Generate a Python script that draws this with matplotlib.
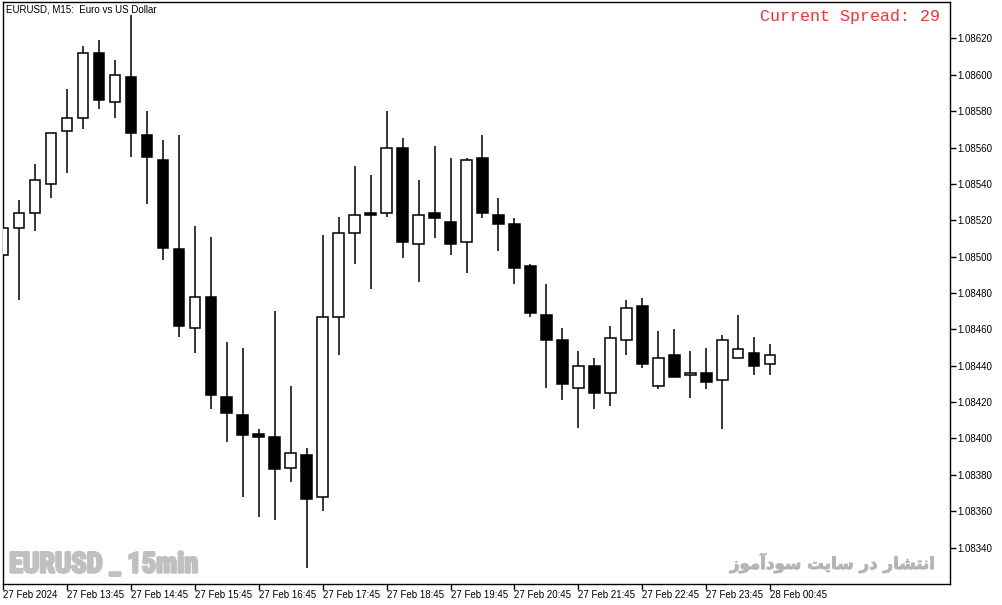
import matplotlib
matplotlib.use("Agg")
import matplotlib.pyplot as plt
from matplotlib import font_manager as fm
import matplotlib.patheffects as pe
import numpy as np

# ---- data (EURUSD M15, 27 Feb 2024 12:45 .. 28 Feb 00:45) ----
opens = [1.08501, 1.08516, 1.08524, 1.08540, 1.08569, 1.08576, 1.08612, 1.08585,
         1.08599, 1.08567, 1.08553, 1.08504, 1.08461, 1.08478, 1.08423, 1.08413,
         1.08402, 1.08401, 1.08384, 1.08391, 1.08368, 1.08467, 1.08513, 1.08524,
         1.08524, 1.08560, 1.08507, 1.08524, 1.08519, 1.08508, 1.08554, 1.08523,
         1.08518, 1.08495, 1.08468, 1.08454, 1.08428, 1.08440, 1.08425, 1.08454,
         1.08473, 1.08429, 1.08446, 1.08435, 1.08436, 1.08432, 1.08444, 1.08447,
         1.08441]
highs = [1.08517, 1.08531, 1.08551, 1.08568, 1.08592, 1.08616, 1.08619, 1.08608,
         1.08633, 1.08580, 1.08564, 1.08567, 1.08517, 1.08511, 1.08453, 1.08450,
         1.08405, 1.08470, 1.08429, 1.08395, 1.08512, 1.08522, 1.08550, 1.08545,
         1.08580, 1.08565, 1.08542, 1.08561, 1.08554, 1.08554, 1.08567, 1.08532,
         1.08521, 1.08496, 1.08485, 1.08461, 1.08448, 1.08444, 1.08462, 1.08476,
         1.08477, 1.08459, 1.08460, 1.08448, 1.08450, 1.08457, 1.08468, 1.08456,
         1.08452]
lows = [1.08500, 1.08476, 1.08514, 1.08532, 1.08546, 1.08570, 1.08581, 1.08576,
        1.08555, 1.08529, 1.08498, 1.08456, 1.08447, 1.08416, 1.08398, 1.08368,
        1.08357, 1.08355, 1.08376, 1.08329, 1.08360, 1.08446, 1.08496, 1.08482,
        1.08522, 1.08499, 1.08486, 1.08510, 1.08501, 1.08491, 1.08521, 1.08503,
        1.08485, 1.08467, 1.08428, 1.08421, 1.08406, 1.08416, 1.08418, 1.08446,
        1.08439, 1.08427, 1.08434, 1.08422, 1.08427, 1.08405, 1.08444, 1.08435,
        1.08435]
closes = [1.08516, 1.08524, 1.08542, 1.08568, 1.08576, 1.08612, 1.08586, 1.08600,
          1.08568, 1.08555, 1.08505, 1.08462, 1.08478, 1.08424, 1.08414, 1.08402,
          1.08401, 1.08383, 1.08392, 1.08367, 1.08467, 1.08513, 1.08523, 1.08523,
          1.08560, 1.08508, 1.08523, 1.08521, 1.08507, 1.08553, 1.08524, 1.08518,
          1.08494, 1.08469, 1.08454, 1.08430, 1.08440, 1.08425, 1.08455, 1.08472,
          1.08441, 1.08444, 1.08434, 1.08436, 1.08431, 1.08454, 1.08449, 1.08440,
          1.08446]

x_tick_pos = list(range(0, 49, 4))
x_tick_labels = ["27 Feb 2024", "27 Feb 13:45", "27 Feb 14:45", "27 Feb 15:45",
                 "27 Feb 16:45", "27 Feb 17:45", "27 Feb 18:45", "27 Feb 19:45",
                 "27 Feb 20:45", "27 Feb 21:45", "27 Feb 22:45", "27 Feb 23:45",
                 "28 Feb 00:45"]
y_ticks = [1.08340, 1.08360, 1.08380, 1.08400, 1.08420, 1.08440, 1.08460,
           1.08480, 1.08500, 1.08520, 1.08540, 1.08560, 1.08580, 1.08600, 1.08620]

title_text = "EURUSD, M15:  Euro vs US Dollar"
spread_text = "Current Spread: 29"
watermark_left = "EURUSD _ 15min"


def shape_persian():
    # "انتشار در سایت سودآموز" written with Arabic presentation forms, visual order
    w_sodamooz = "\uFEAF\uFEEE\uFEE3\uFE81\uFEA9\uFEEE\uFEB3"
    w_sayt = "\uFE96\uFBFE\uFE8E\uFEB3"
    w_dar = "\uFEAD\uFEA9"
    w_enteshar = "\uFEAD\uFE8E\uFEB8\uFE98\uFEE7\uFE8D"
    return " ".join([w_sodamooz, w_sayt, w_dar, w_enteshar])


names = {f.name for f in fm.fontManager.ttflist}
if "Roboto Condensed" in names:
    wm_family, wm_size = "Roboto Condensed", 20.5
else:
    wm_family, wm_size = "Liberation Sans", 16.5

W, H = 1003, 605
fig = plt.figure(figsize=(W / 100, H / 100), dpi=100)
fig.patch.set_facecolor("white")
ax = fig.add_axes([3 / W, 1 - 584 / H, (950 - 3) / W, (584 - 2) / H])
ax.set_facecolor("white")

idx = np.arange(len(opens))
o = np.array(opens); c = np.array(closes); h = np.array(highs); l = np.array(lows)
ax.vlines(idx, l, h, color="black", linewidth=1.1, zorder=2)
bull = c >= o
bottoms = np.minimum(o, c)
heights = np.maximum(np.abs(c - o), 0.000012)
ax.bar(idx, heights, bottom=bottoms, width=0.66,
       color=np.where(bull, "white", "black"), edgecolor="black",
       linewidth=1.1, zorder=3)

ax.set_xlim(0.04, 59.25)
ax.set_ylim(1.08320, 1.08640)

for s in ax.spines.values():
    s.set_color("black")
    s.set_linewidth(1.0)

ax.yaxis.tick_right()
ax.set_yticks(y_ticks)
ax.set_yticklabels([f"{v:.5f}" for v in y_ticks])
ax.tick_params(axis="y", direction="out", length=4, width=1, pad=1,
               labelsize=7, colors="black")
ax.set_xticks(x_tick_pos)
ax.set_xticklabels(x_tick_labels)
ax.tick_params(axis="x", direction="out", length=4, width=1, pad=0,
               labelsize=7, colors="black")
for t in ax.get_xticklabels():
    t.set_horizontalalignment("left")
    t.set_fontfamily("Liberation Sans")
for t in ax.get_yticklabels():
    t.set_fontfamily("Liberation Sans")

ax.text(6 / W, 1 - 10 / H, title_text, transform=fig.transFigure,
        fontsize=7, family="Liberation Sans", color="black",
        ha="left", va="center")
ax.text(940 / W, 1 - 17 / H, spread_text, transform=fig.transFigure,
        fontsize=12, family="Liberation Mono", color="#ff3030",
        ha="right", va="center")
ax.text(9 / W, 1 - 565 / H, watermark_left, transform=fig.transFigure,
        fontsize=wm_size, family=wm_family, fontweight="bold",
        color="#c0c0c0", ha="left", va="center",
        path_effects=[pe.withStroke(linewidth=1.8, foreground="#c0c0c0")])
ax.text(935 / W, 1 - 563 / H, shape_persian(), transform=fig.transFigure,
        fontsize=12, family=["DejaVu Sans"], fontweight="bold",
        color="#b4b4b4", ha="right", va="center",
        path_effects=[pe.withStroke(linewidth=0.6, foreground="#b4b4b4")])

fig.savefig("out.png", dpi=100, facecolor="white")
